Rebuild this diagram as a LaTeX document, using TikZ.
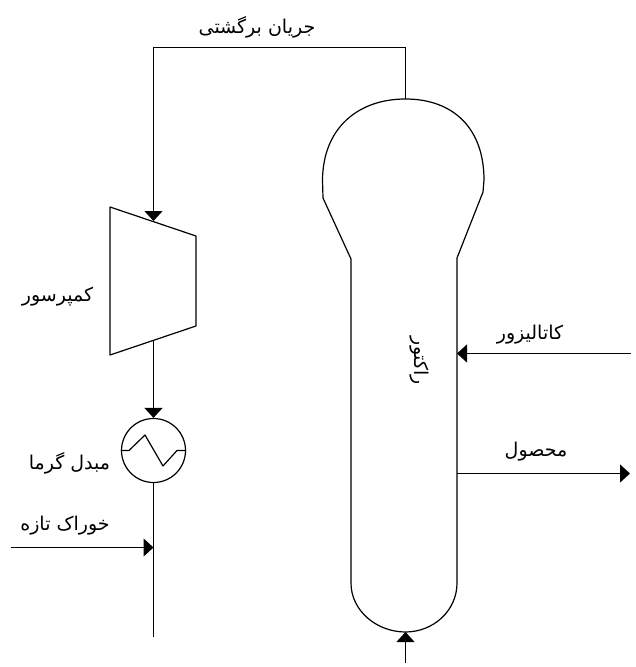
\documentclass[tikz,border=0pt]{standalone}
\usepackage{fontspec}
\usetikzlibrary{arrows.meta}
\TeXXeTstate=1
\newfontfamily\arabicfont[Script=Arabic]{DejaVu Sans}
\newcommand{\fa}[1]{\arabicfont\beginR #1\endR}
\tikzset{
  pipe/.style={line width=1.2pt,black},
  flow/.style={pipe,-{Triangle[length=10pt,width=18pt]}},
  equip/.style={line width=1.2pt,black,line join=round},
  lab/.style={inner sep=0pt,font=\fontsize{19}{22}\selectfont,black},
}
\begin{document}
\begin{tikzpicture}[x=1pt,y=-1pt]
\useasboundingbox (0,0) rectangle (636,667);
% reactor
\coordinate (rtop) at (405.5,99);
\coordinate (rbot) at (405.5,632);
\draw[equip] (rtop)
  .. controls (453,99) and (484,128) .. (484,180)
  -- (483,192) -- (457,258) -- (457,583)
  .. controls (457,611) and (433,632) .. (rbot)
  .. controls (377,632) and (351,611) .. (351,583)
  -- (351,259) -- (323,198) -- (322.5,180)
  .. controls (323,128) and (358,99) .. (rtop) -- cycle;
% compressor
\coordinate (cA) at (110,207);
\coordinate (cB) at (196,236);
\coordinate (cC) at (196,326);
\coordinate (cD) at (110,355);
\coordinate (cin) at (153.5,221);
\coordinate (cout) at (153.5,341);
\draw[equip] (cA) -- (cB) -- (cC) -- (cD) -- cycle;
% heat exchanger
\node[circle,draw,line width=1.2pt,minimum size=64pt,inner sep=0pt] (hx) at (153.5,450.5) {};
\draw[equip] (hx.west) -- (129,450.5) -- (145,435) -- (163,466) -- (177,450.5) -- (hx.east);
% connectors
\coordinate (corner1) at (405.5,47.5);
\coordinate (corner2) at (153.5,47.5);
\coordinate (feedline) at (153.5,547.5);
\coordinate (feedend) at (153.5,637);
\coordinate (feedstart) at (11,547.5);
\coordinate (catS) at (631,353.5);
\coordinate (catE) at (457,353.5);
\coordinate (prodS) at (457,473.5);
\coordinate (prodE) at (630,473.5);
\coordinate (botS) at (405.5,663);
\draw[flow] (rtop) -- (corner1) -- (corner2) -- (cin);
\draw[flow] (cout) -- (hx.north);
\draw[pipe] (hx.south) -- (feedend);
\draw[flow] (feedstart) -- (feedline);
\draw[flow] (catS) -- (catE);
\draw[flow] (prodS) -- (prodE);
\draw[flow] (botS) -- (rbot);
% labels
\node[lab] (l1) at (257,27) {\fa{جریان برگشتی}};
\node[lab] (l2) at (57.5,297) {\fa{کمپرسور}};
\node[lab] (l3) at (69.5,463) {\fa{مبدل گرما}};
\node[lab] (l4) at (65,526) {\fa{خوراک تازه}};
\node[lab] (l5) at (530,335) {\fa{کاتالیزور}};
\node[lab] (l6) at (536,452) {\fa{محصول}};
\node[lab,rotate=-90] (l7) at (419,361) {\fa{راکتور}};
\end{tikzpicture}
\end{document}
